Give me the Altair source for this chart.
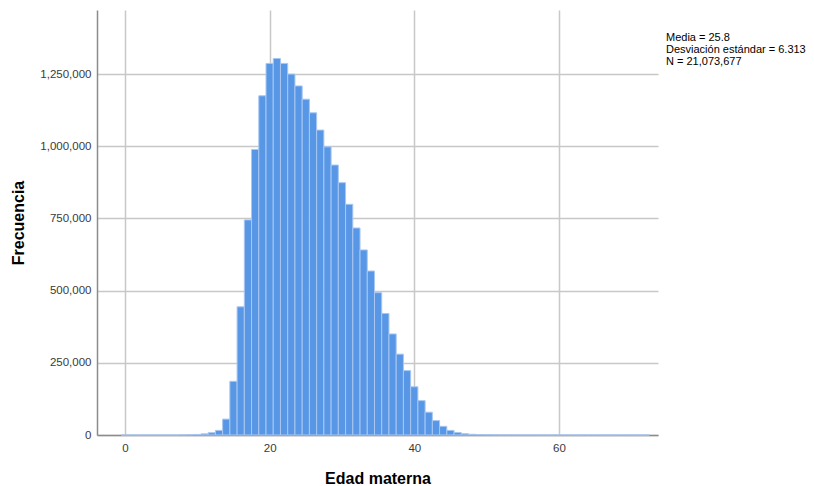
import altair as alt
import pandas as pd

edades = list(range(0, 73))
frecuencias = [
    0, 0, 0, 0, 0, 0, 0, 0, 300, 800,            # 0-9
    2000, 4000, 8000, 16000, 55000,              # 10-14
    186000, 444000, 745000, 989000, 1175000,     # 15-19
    1287000, 1304000, 1287000, 1250000, 1209000, # 20-24
    1163000, 1116000, 1056000, 998000, 935000,   # 25-29
    874000, 799000, 717000, 641000, 568000,      # 30-34
    493000, 421000, 350000, 280000, 223000,      # 35-39
    167000, 119000, 79000, 50000, 30000,         # 40-44
    16000, 8500, 4500, 2500, 1500,               # 45-49
    1000, 600, 400, 300, 200,                    # 50-54
    150, 120, 100, 90, 80,                       # 55-59
    70, 60, 50, 40, 35, 30, 25, 20, 15, 12, 10, 8, 5,  # 60-72
]
x_ticks = [0, 20, 40, 60]
y_ticks = [0, 250000, 500000, 750000, 1000000, 1250000]
stats_lines = "Media = 25.8\nDesviación estándar = 6.313\nN = 21,073,677"

df = pd.DataFrame({"edad": edades, "frecuencia": frecuencias})
df["lo"] = df["edad"] - 0.5
df["hi"] = df["edad"] + 0.5
df["base"] = 0

FONT = "Liberation Sans"

bars = alt.Chart(df).mark_bar(
    color="#5897E6", stroke="#A8C7F1", strokeWidth=1
).encode(
    x=alt.X(
        "lo:Q",
        scale=alt.Scale(domain=[-3.87, 73.7], nice=False, zero=False),
        axis=alt.Axis(
            values=x_ticks, title="Edad materna", format=".0f",
            titleX=280.5, titleY=43, titleBaseline="middle",
        ),
    ),
    x2="hi:Q",
    y=alt.Y(
        "frecuencia:Q",
        scale=alt.Scale(domain=[0, 1472000], nice=False),
        axis=alt.Axis(
            values=y_ticks, title="Frecuencia", format=",.0f",
            titleX=-78.5, titleY=212.5, titleBaseline="middle", titleAngle=270,
        ),
    ),
    y2="base:Q",
)

stats = alt.Chart(pd.DataFrame({"t": [stats_lines]})).mark_text(
    align="left", baseline="alphabetic", lineBreak="\n", fontSize=11,
    lineHeight=12, font=FONT, color="#000000",
).encode(
    text="t:N", x=alt.value(569), y=alt.value(31)
)

chart = (bars + stats).properties(
    width=561, height=425,
    autosize=alt.AutoSizeParams(type="none"),
    padding={"left": 89, "top": 2, "right": 148, "bottom": 51},
    background="#ffffff",
).configure_view(stroke=None).configure_axis(
    grid=True, gridColor="#C8C8C8", gridWidth=1.5,
    domainColor="#8C8C8C", domainWidth=1.5,
    ticks=False,
    labelFont=FONT, labelFontSize=11.5, labelColor="#3A3A3A",
    titleFont=FONT, titleFontSize=16, titleFontWeight="bold", titleColor="#000000",
).configure_axisX(labelPadding=7).configure_axisY(labelPadding=6)

chart.save("out.html", embed_options={"renderer": "svg", "actions": False})
